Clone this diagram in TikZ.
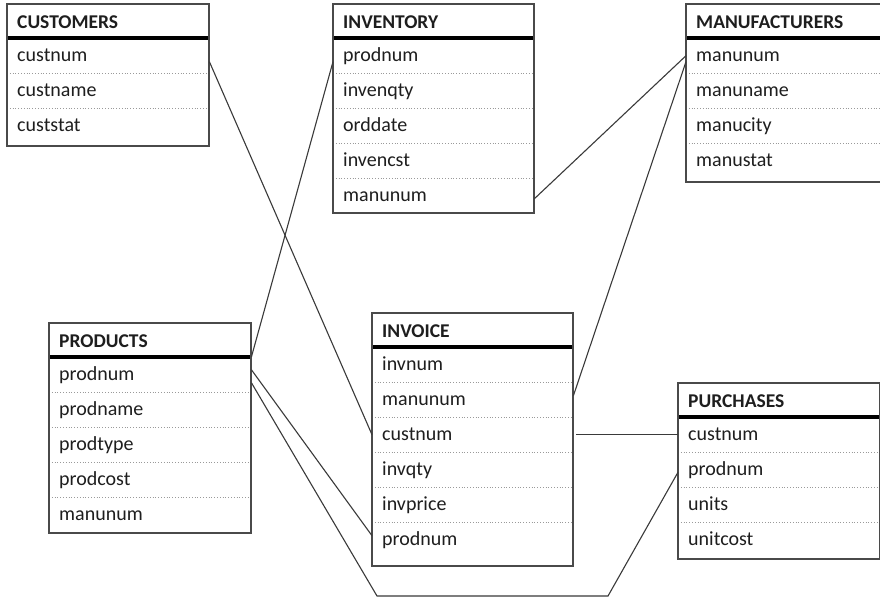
\documentclass[tikz,border=0pt]{standalone}
\usepackage{fontspec}
\setmainfont{Carlito}
\usetikzlibrary{calc}
\definecolor{tborder}{HTML}{4A4A4A}
\definecolor{tsepc}{HTML}{9A9A9A}
\definecolor{linkc}{HTML}{3A3A3A}
\definecolor{ttext}{HTML}{1E1E1E}

% one table: name, x, y, width, height, title, fields
\newcommand{\dbtable}[7]{%
  \pgfmathsetmacro\tw{#4-20}
  \node[thead, text width=\tw pt] (#1) at (#2,#3) {#6};
  \foreach \f [count=\i] in {#7} {
    \node[tfield, text width=\tw pt] (#1-\f) at (#2,{#3+34+35*(\i-1)}) {\f};
    \draw[tsep] (#1-\f.north west) -- (#1-\f.north east);
  }
  \draw[trule] (#1.south west) -- (#1.south east);
  \draw[tframe] (#1.north west) rectangle ++(#4,#5);
}

\begin{document}
\begin{tikzpicture}[x=1pt,y=-1pt,
thead/.style={anchor=north west, inner xsep=10pt, inner ysep=0pt, minimum height=34pt,
              text height=15.5pt, text depth=0pt, align=left, text=ttext,
              font=\fontsize{19.5}{22}\selectfont\bfseries},
tfield/.style={anchor=north west, inner xsep=10pt, inner ysep=0pt, minimum height=35pt,
               text height=12.5pt, text depth=0pt, align=left, text=ttext,
               font=\fontsize{20}{22}\selectfont},
tsep/.style={tsepc, line width=0.8pt, dotted},
trule/.style={black, line width=4pt},
tframe/.style={tborder, line width=1.3pt},
link/.style={linkc, line width=1.1pt}]
%
\useasboundingbox[fill=white] (0,0) rectangle (880,598);

\dbtable{cust}{7}{4}{202}{142}{CUSTOMERS}{custnum,custname,custstat}
\dbtable{invt}{333}{4}{201}{209}{INVENTORY}{prodnum,invenqty,orddate,invencst,manunum}
\dbtable{manu}{686}{4}{202}{178}{MANUFACTURERS}{manunum,manuname,manucity,manustat}
\dbtable{prod}{49}{323}{202}{210}{PRODUCTS}{prodnum,prodname,prodtype,prodcost,manunum}
\dbtable{inv}{372}{313}{201}{253}{INVOICE}{invnum,manunum,custnum,invqty,invprice,prodnum}
\dbtable{purch}{678}{383}{202}{176}{PURCHASES}{custnum,prodnum,units,unitcost}

% links
\coordinate (lowL) at (377,596);
\coordinate (lowR) at (608,596);

\draw[link] ([yshift=-6pt]cust-custnum.east) -- (inv-custnum.west);
\draw[link] (prod-prodnum.north east) -- ([yshift=-6pt]invt-prodnum.west);
\draw[link] ([yshift=-3pt]invt-manunum.east) -- (manu-manunum.west);
\draw[link] ([yshift=-6pt]manu-manunum.west) -- ([yshift=4pt]inv-manunum.east);
\draw[link] ([xshift=3pt]inv-custnum.east) -- (purch-custnum.west);
\draw[link] ([yshift=5pt]prod-prodnum.east) -- ([yshift=4pt]inv-prodnum.west);
\draw[link] ([yshift=-8pt]prod-prodnum.east) -- (lowL) -- (lowR) -- ([yshift=-2.5pt]purch-prodnum.west);

\end{tikzpicture}
\end{document}
